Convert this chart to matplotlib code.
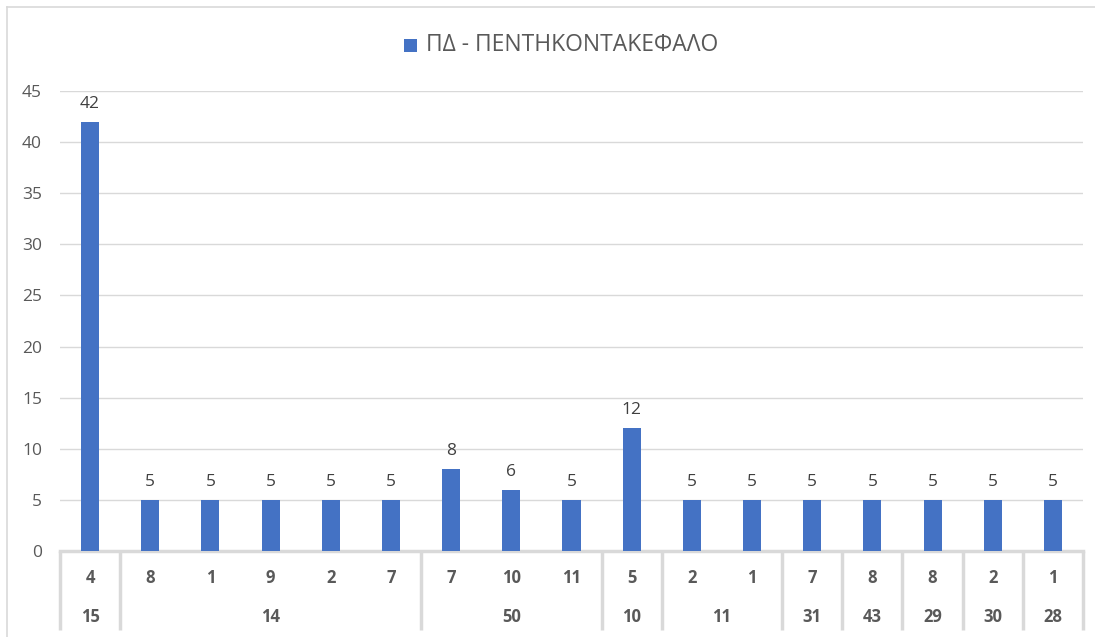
import matplotlib
matplotlib.use("Agg")
import matplotlib.pyplot as plt
import matplotlib.transforms as mtransforms
from matplotlib.patches import Rectangle
from matplotlib.lines import Line2D

values = [42, 5, 5, 5, 5, 5, 8, 6, 5, 12, 5, 5, 5, 5, 5, 5, 5]
inner_labels = ["4", "8", "1", "9", "2", "7", "7", "10", "11", "5", "2", "1", "7", "8", "8", "2", "1"]
group_labels = ["15", "14", "50", "10", "11", "31", "43", "29", "30", "28"]
group_sizes = [1, 5, 3, 1, 2, 1, 1, 1, 1, 1]
series_name = "ΠΔ - ΠΕΝΤΗΚΟΝΤΑΚΕΦΑΛΟ"
yticks = [0, 5, 10, 15, 20, 25, 30, 35, 40, 45]

plt.rcParams['font.family'] = ['Open Sans', 'DejaVu Sans']
BAR = "#4472C4"
GRID = "#D9D9D9"
TXT = "#595959"

fig = plt.figure(figsize=(10.95, 6.37), dpi=100)
# chart-area border (top and left visible)
fig.lines.append(Line2D([7/1095, 7/1095], [0, 1-7/637], transform=fig.transFigure, color=GRID, linewidth=1.2))
fig.lines.append(Line2D([7/1095, 1], [1-7/637, 1-7/637], transform=fig.transFigure, color=GRID, linewidth=1.2))

ax = fig.add_axes([60/1095, 1-551/637, (1083-60)/1095, (551-91)/637])

x = list(range(len(values)))
ax.bar(x, values, width=0.3, color=BAR, zorder=3)
for xi, v in zip(x, values):
    ax.annotate(str(v), (xi, v), xytext=(0, 10), textcoords="offset points",
                ha="center", va="baseline", fontsize=12.5, color="#404040")

ax.set_xlim(-0.5, len(values) - 0.5)
ax.set_ylim(0, 45)
ax.set_yticks(yticks)
ax.set_yticklabels([str(t) for t in yticks], fontsize=12.5, color=TXT)
ax.tick_params(axis="y", length=0, pad=13)
ax.set_xticks([])
ax.grid(axis="y", color=GRID, linewidth=1.0, zorder=0)
for s in ["top", "right", "left"]:
    ax.spines[s].set_visible(False)
ax.spines["bottom"].set_color(GRID)
ax.spines["bottom"].set_linewidth(2.5)

trans = mtransforms.blended_transform_factory(ax.transData, ax.transAxes)
for xi, lab in zip(x, inner_labels):
    ax.text(xi, -0.059, lab, transform=trans, ha="center", va="center",
            fontsize=12, fontweight="bold", color=TXT, clip_on=False)

start = 0
bounds = [-0.5]
for lab, n in zip(group_labels, group_sizes):
    center = start + (n - 1) / 2
    ax.text(center, -0.144, lab, transform=trans, ha="center", va="center",
            fontsize=12, fontweight="bold", color=TXT, clip_on=False)
    start += n
    bounds.append(start - 0.5)
for b in bounds:
    ax.plot([b, b], [0, -0.172], transform=trans, color=GRID, linewidth=2.5,
            clip_on=False, solid_capstyle="butt")

# legend at top
fig.patches.append(Rectangle((404/1095, 1-52/637), 13/1095, 13/637, transform=fig.transFigure,
                             facecolor=BAR, edgecolor="none"))
fig.text(426/1095, 1-45/637, series_name, ha="left", va="center", fontsize=16.5, color=TXT)

fig.savefig("out.png", dpi=100)
